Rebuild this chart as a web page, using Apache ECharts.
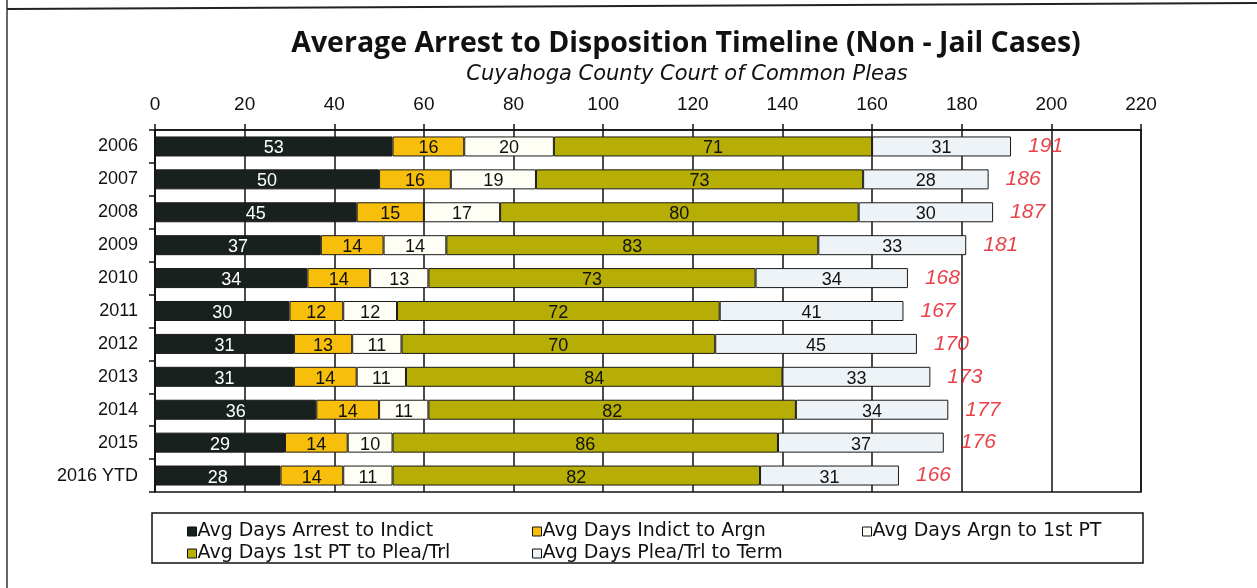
<!DOCTYPE html>
<html>
<head>
<meta charset="utf-8">
<script src="https://cdn.jsdelivr.net/npm/echarts@6/dist/echarts.min.js"></script>
<style>html,body{margin:0;padding:0;background:#fff}#c{width:1257px;height:588px}</style>
</head>
<body>
<div id="c"></div>
<script>
const categories = ['2006','2007','2008','2009','2010','2011','2012','2013','2014','2015','2016 YTD'];
const arrestToIndict = [53,50,45,37,34,30,31,31,36,29,28];
const indictToArgn   = [16,16,15,14,14,12,13,14,14,14,14];
const argnTo1stPT    = [20,19,17,14,13,12,11,11,11,10,11];
const firstPTToPlea  = [71,73,80,83,73,72,70,84,82,86,82];
const pleaToTerm     = [31,28,30,33,34,41,45,33,34,37,31];
const totals         = [191,186,187,181,168,167,170,173,177,176,166];
const xTicks = [0,20,40,60,80,100,120,140,160,180,200,220];

const seriesNames = ['Avg Days Arrest to Indict','Avg Days Indict to Argn','Avg Days Argn to 1st PT','Avg Days 1st PT to Plea/Trl','Avg Days Plea/Trl to Term'];
const seriesData = [arrestToIndict, indictToArgn, argnTo1stPT, firstPTToPlea, pleaToTerm];
const colors = ['#18211e','#f7bf0c','#fffef4','#b6ad05','#eef3f7'];
const labelColors = ['#ffffff','#111','#111','#111','#111'];

const titleFont = '"Open Sans", Lato, sans-serif';
const wideFont = '"DejaVu Sans", "Open Sans", sans-serif';

const chart = echarts.init(document.getElementById('c'));
const series = seriesData.map((d, i) => ({
  name: seriesNames[i],
  type: 'bar',
  stack: 'total',
  data: d,
  barWidth: 20,
  itemStyle: { color: colors[i], borderColor: '#1a1a1a', borderWidth: 1 },
  label: {
    show: true, position: 'inside', color: labelColors[i],
    fontFamily: '"Liberation Sans", Arial, sans-serif', fontSize: 18, offset: [0, 2]
  },
  emphasis: { disabled: true },
  z: 3
}));
series.push({
  type: 'scatter',
  data: totals.map((t, i) => [t, i]),
  symbolSize: 0,
  label: {
    show: true, position: 'right', distance: 17,
    formatter: p => String(p.value[0]),
    color: '#e3121b', fontStyle: 'italic', fontSize: 21,
    fontFamily: '"Liberation Sans", Arial, sans-serif'
  },
  z: 4
});

const legendCommon = {
  orient: 'vertical', top: 517, itemWidth: 9, itemHeight: 9, itemGap: 3,
  icon: 'rect', selectedMode: false,
  textStyle: { fontFamily: wideFont, fontSize: 19, color: '#111', padding: [0,0,0,-4] },
  itemStyle: { borderColor: '#111', borderWidth: 1 }
};

chart.setOption({
  animation: false,
  backgroundColor: '#fff',
  title: [
    { text: 'Average Arrest to Disposition Timeline (Non - Jail Cases)', left: 681, top: 24, textAlign: 'center',
      textStyle: { fontFamily: titleFont, fontWeight: 'bold', fontSize: 28.5, color: '#111' } },
    { text: 'Cuyahoga County Court of Common Pleas', left: 682, top: 59, textAlign: 'center',
      textStyle: { fontFamily: wideFont, fontStyle: 'italic', fontWeight: 'normal', fontSize: 21, color: '#111' } }
  ],
  grid: { left: 155, right: 116, top: 130, bottom: 96, show: true, borderColor: '#111', borderWidth: 1.5, containLabel: false },
  legend: [
    Object.assign({}, legendCommon, { data: [seriesNames[0], seriesNames[3]], left: 182 }),
    Object.assign({}, legendCommon, { data: [seriesNames[1], seriesNames[4]], left: 527 }),
    Object.assign({}, legendCommon, { data: [seriesNames[2]], left: 857 })
  ],
  xAxis: {
    type: 'value', position: 'top', min: 0, max: 220, interval: 20,
    axisLine: { show: true, lineStyle: { color: '#111', width: 1.5 } },
    axisTick: { show: true, inside: false, length: 6, lineStyle: { color: '#111', width: 1.5 } },
    axisLabel: { color: '#111', fontSize: 19, fontFamily: '"Liberation Sans", Arial, sans-serif', margin: 16,
      formatter: v => xTicks.includes(v) ? String(v) : '' },
    splitLine: { show: true, lineStyle: { color: '#111', width: 1.5 } }
  },
  yAxis: {
    type: 'category', data: categories, inverse: true,
    axisLine: { show: true, lineStyle: { color: '#111', width: 1.5 } },
    axisTick: { show: true, length: 6, lineStyle: { color: '#111', width: 1.5 } },
    axisLabel: { color: '#111', fontSize: 18, fontFamily: '"Liberation Sans", Arial, sans-serif', margin: 17 }
  },
  graphic: [
    { type: 'rect', shape: { x: 152, y: 513, width: 991, height: 50 }, style: { fill: 'none', stroke: '#111', lineWidth: 1.5 }, z: -1 },
    { type: 'line', shape: { x1: 7, y1: 0, x2: 7, y2: 588 }, style: { stroke: '#333', lineWidth: 1.5 } },
    { type: 'line', shape: { x1: 7, y1: 9, x2: 1257, y2: 3 }, style: { stroke: '#222', lineWidth: 2 } }
  ],
  series: series
});
</script>
</body>
</html>
